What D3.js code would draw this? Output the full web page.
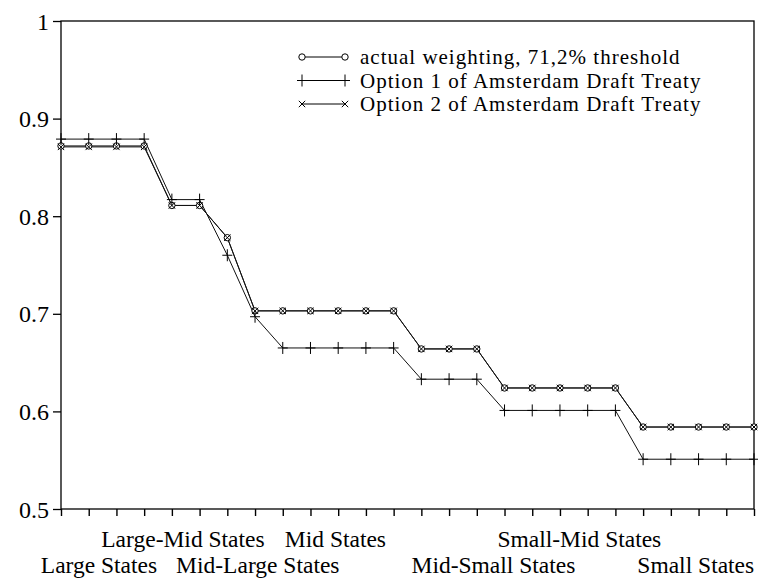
<!DOCTYPE html>
<html>
<head>
<meta charset="utf-8">
<script src="https://cdn.jsdelivr.net/npm/d3@7"></script>
<style>
  body { margin: 0; background: #fff; }
  svg text { font-family: "Liberation Serif", "DejaVu Serif", "Times New Roman", Times, serif; fill: #000; }
</style>
</head>
<body>
<div id="chart"></div>
<script>
var svgWidth = 758;
var svgHeight = 578;

var margin = { top: 21, right: 4, bottom: 69, left: 61 };
var width = svgWidth - margin.left - margin.right;
var height = svgHeight - margin.top - margin.bottom;

// member states ranked by size, 0..25
var states = d3.range(26);

// actual weighting, 71,2% threshold
var actualWeighting = [0.872, 0.872, 0.872, 0.872, 0.811, 0.811, 0.778,
  0.703, 0.703, 0.703, 0.703, 0.703, 0.703, 0.664, 0.664, 0.664,
  0.624, 0.624, 0.624, 0.624, 0.624, 0.584, 0.584, 0.584, 0.584, 0.584];

// Option 1 of Amsterdam Draft Treaty
var option1 = [0.879, 0.879, 0.879, 0.879, 0.817, 0.817, 0.760,
  0.697, 0.665, 0.665, 0.665, 0.665, 0.665, 0.633, 0.633, 0.633,
  0.601, 0.601, 0.601, 0.601, 0.601, 0.551, 0.551, 0.551, 0.551, 0.551];

// Option 2 of Amsterdam Draft Treaty
var option2 = [0.871, 0.871, 0.871, 0.871, 0.811, 0.811, 0.778,
  0.703, 0.703, 0.703, 0.703, 0.703, 0.703, 0.664, 0.664, 0.664,
  0.624, 0.624, 0.624, 0.624, 0.624, 0.584, 0.584, 0.584, 0.584, 0.584];

var yTicks = [0.5, 0.6, 0.7, 0.8, 0.9, 1];

// group labels: text, position on the state axis, row
var groupNames = ["Large States", "Large-Mid States", "Mid-Large States", "Mid States",
  "Mid-Small States", "Small-Mid States", "Small States"];
var groupAt = [1.37, 4.4, 7.1, 9.9, 15.6, 18.7, 22.9];
var groupRow = [1, 0, 1, 0, 1, 0, 1];

var legendNames = ["actual weighting, 71,2% threshold",
  "Option 1 of Amsterdam Draft Treaty",
  "Option 2 of Amsterdam Draft Treaty"];

var svg = d3.select("#chart")
  .append("svg")
  .attr("width", svgWidth)
  .attr("height", svgHeight);

var chartGroup = svg.append("g")
  .attr("transform", `translate(${margin.left}, ${margin.top})`);

var xScale = d3.scaleLinear()
  .domain([0, 25])
  .range([0, width]);

var yScale = d3.scaleLinear()
  .domain([0.5, 1])
  .range([height, 0]);

// frame
chartGroup.append("rect")
  .attr("width", width)
  .attr("height", height)
  .attr("fill", "none")
  .attr("stroke", "#000")
  .attr("stroke-width", 1.3);

var bottomAxis = d3.axisBottom(xScale)
  .tickValues(states)
  .tickSize(7)
  .tickFormat("");

var leftAxis = d3.axisLeft(yScale)
  .tickValues(yTicks)
  .tickSize(8)
  .tickPadding(4)
  .tickFormat(d => d === 1 ? "1" : d3.format(".1f")(d));

chartGroup.append("g")
  .attr("transform", `translate(0, ${height})`)
  .call(bottomAxis)
  .call(g => g.select(".domain").remove())
  .selectAll("line").attr("stroke-width", 1.4);

chartGroup.append("g")
  .call(leftAxis)
  .call(g => g.select(".domain").remove())
  .call(g => g.selectAll("line").attr("stroke-width", 1.3))
  .selectAll("text")
  .attr("dy", "0.34em")
  .style("font-size", "24px");

// lines
var line = d3.line()
  .x((d, i) => xScale(i))
  .y(d => yScale(d));

var series = [
  { name: "actual", values: actualWeighting },
  { name: "opt1", values: option1 },
  { name: "opt2", values: option2 }
];

chartGroup.selectAll(".series")
  .data(series)
  .enter()
  .append("path")
  .attr("class", "series")
  .attr("d", d => line(d.values))
  .attr("fill", "none")
  .attr("stroke", "#111")
  .attr("stroke-width", 1);

// markers
function drawCircle(g, x, y) {
  g.append("circle")
    .attr("cx", x).attr("cy", y).attr("r", 3.2)
    .attr("fill", "#fff").attr("stroke", "#000").attr("stroke-width", 1);
}
function drawPlus(g, x, y) {
  g.append("path")
    .attr("d", `M${x - 5},${y}H${x + 5}M${x},${y - 6}V${y + 6}`)
    .attr("stroke", "#000").attr("stroke-width", 1);
}
function drawCross(g, x, y) {
  g.append("path")
    .attr("d", `M${x - 3.2},${y - 3.2}L${x + 3.2},${y + 3.2}M${x - 3.2},${y + 3.2}L${x + 3.2},${y - 3.2}`)
    .attr("stroke", "#000").attr("stroke-width", 1);
}

var markerGroup = chartGroup.append("g");
actualWeighting.forEach((v, i) => drawCircle(markerGroup, xScale(i), yScale(v)));
option2.forEach((v, i) => drawCross(markerGroup, xScale(i), yScale(v)));
option1.forEach((v, i) => drawPlus(markerGroup, xScale(i), yScale(v)));

// group labels under the axis
chartGroup.selectAll(".group-label")
  .data(groupNames)
  .enter()
  .append("text")
  .attr("class", "group-label")
  .attr("x", (d, i) => xScale(groupAt[i]))
  .attr("y", (d, i) => height + 38 + groupRow[i] * 26)
  .attr("text-anchor", "middle")
  .style("font-size", "23.5px")
  .text(d => d);

// legend
var legend = svg.append("g")
  .attr("transform", "translate(302, 57)");

var markers = [drawCircle, drawPlus, drawCross];
legendNames.forEach(function(name, i) {
  var row = legend.append("g").attr("transform", `translate(0, ${i * 23.5})`);
  row.append("line")
    .attr("x1", 0).attr("x2", 43)
    .attr("stroke", "#000").attr("stroke-width", 1);
  markers[i](row, 0, 0);
  markers[i](row, 43, 0);
  row.append("text")
    .attr("x", 58)
    .attr("y", 7)
    .style("font-size", "21px")
    .style("letter-spacing", "1px")
    .text(name);
});
</script>
</body>
</html>
